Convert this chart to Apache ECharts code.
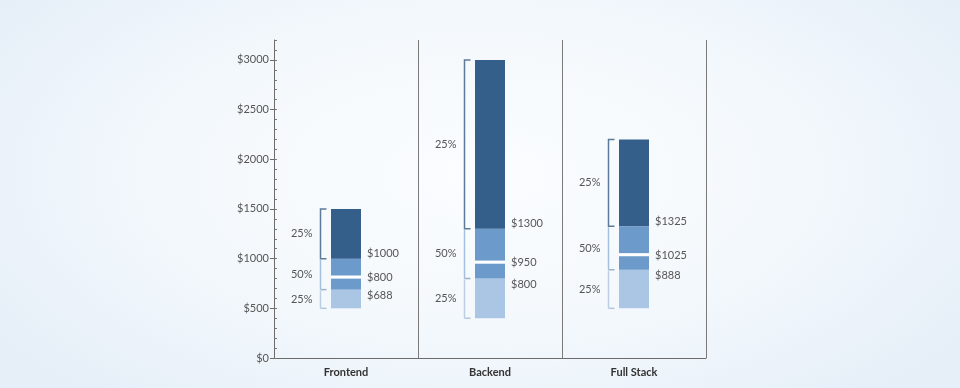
<!DOCTYPE html>
<html>
<head>
<meta charset="utf-8">
<script src="https://cdn.jsdelivr.net/npm/echarts@6/dist/echarts.min.js"></script>
<style>
  html, body { margin: 0; padding: 0; }
  body {
    width: 960px; height: 388px; overflow: hidden;
    background: radial-gradient(ellipse 60% 75% at 50% 45%, #fbfdff 0%, #f3f8fc 55%, #e6eff8 100%);
  }
  #chart { width: 960px; height: 388px; }
</style>
</head>
<body>
<div id="chart"></div>
<script>
const categories = ['Frontend', 'Backend', 'Full Stack'];
const lowValues = [500, 400, 500];
const q1Values = [688, 800, 888];
const medianValues = [800, 950, 1025];
const q3Values = [1000, 1300, 1325];
const highValues = [1500, 3000, 2200];
const shareLabels = ['25%', '50%', '25%'];
const yTickValues = [0, 500, 1000, 1500, 2000, 2500, 3000];

const FONT = 'Lato, "Open Sans", sans-serif';
const DARK = '#355f8b';
const MID = '#6c9aca';
const LIGHT = '#abc5e4';

const chart = echarts.init(document.getElementById('chart'), null, { renderer: 'canvas' });

const seg = (a, b) => a.map((v, i) => b[i] - v);

const option = {
  backgroundColor: 'transparent',
  animation: false,
  grid: { left: 274, right: 254, top: 40, bottom: 30, containLabel: false },
  xAxis: {
    type: 'category',
    data: categories,
    boundaryGap: true,
    axisLine: { show: true, lineStyle: { color: '#6b6b6b', width: 1 } },
    axisTick: { show: false },
    axisLabel: { margin: 9, fontSize: 11, color: '#333', fontFamily: FONT, fontWeight: 'bold' },
    splitLine: { show: true, lineStyle: { color: '#7a7a7a', width: 1 } }
  },
  yAxis: [
    {
      type: 'value', min: 0, max: 3200, interval: 500, position: 'left',
      axisLine: { show: true, lineStyle: { color: '#6b6b6b', width: 1 } },
      axisTick: { show: true, length: 4, customValues: yTickValues, lineStyle: { color: '#6b6b6b' } },
      axisLabel: {
        customValues: yTickValues, margin: 5, fontSize: 11, color: '#555', fontFamily: FONT,
        formatter: v => (v > 3000 ? '' : '$' + v)
      },
      splitLine: { show: false }
    },
    {
      type: 'value', min: 0, max: 3200, interval: 100, position: 'left',
      axisLine: { show: false },
      axisTick: { show: true, inside: true, length: 3, lineStyle: { color: '#777' } },
      axisLabel: { show: false },
      splitLine: { show: false }
    }
  ],
  series: [
    { type: 'bar', stack: 's', barWidth: 30, data: lowValues, itemStyle: { color: 'transparent' }, silent: true },
    { type: 'bar', stack: 's', barWidth: 30, data: seg(lowValues, q1Values), itemStyle: { color: LIGHT } },
    { type: 'bar', stack: 's', barWidth: 30, data: seg(q1Values, medianValues), itemStyle: { color: MID } },
    { type: 'bar', stack: 's', barWidth: 30, data: seg(medianValues, q3Values), itemStyle: { color: MID } },
    { type: 'bar', stack: 's', barWidth: 30, data: seg(q3Values, highValues), itemStyle: { color: DARK } },
    {
      type: 'custom',
      clip: false,
      z: 10,
      data: categories.map((c, i) => [i, lowValues[i], q1Values[i], medianValues[i], q3Values[i], highValues[i]]),
      encode: { x: 0, y: [1, 2, 3, 4, 5] },
      renderItem: function (params, api) {
        const i = api.value(0);
        const xc = api.coord([i, 0])[0];
        const bw = 30;
        const left = xc - bw / 2;
        const right = xc + bw / 2;
        const y = k => api.coord([i, api.value(k)])[1];
        const yLow = y(1), yQ1 = y(2), yMed = y(3), yQ3 = y(4), yHigh = y(5);
        const bx = Math.round(left - 11) + 0.5;
        const tl = 6;
        const txt = (x, yy, s, align) => ({
          type: 'text',
          style: { x: x, y: yy, text: s, fill: '#555', font: '11px ' + FONT, textAlign: align, textVerticalAlign: 'middle' }
        });
        const children = [
          { type: 'rect', shape: { x: left, y: yMed - 3, width: bw, height: 3 }, style: { fill: '#ffffff' } },
          // top bracket
          { type: 'polyline', shape: { points: [[bx + tl, yHigh], [bx, yHigh], [bx, yQ3], [bx + tl, yQ3]] },
            style: { stroke: '#5d7a99', lineWidth: 1.5, fill: null } },
          // middle bracket
          { type: 'line', shape: { x1: bx, y1: yQ3 + 1, x2: bx, y2: yQ1 },
            style: { stroke: '#a3c0df', lineWidth: 1.5 } },
          { type: 'line', shape: { x1: bx, y1: yQ1, x2: bx + tl, y2: yQ1 },
            style: { stroke: '#9fb3c8', lineWidth: 1.5 } },
          // bottom bracket
          { type: 'line', shape: { x1: bx, y1: yQ1 + 1, x2: bx, y2: yLow },
            style: { stroke: '#bccfe3', lineWidth: 1.5 } },
          { type: 'line', shape: { x1: bx, y1: yLow, x2: bx + tl, y2: yLow },
            style: { stroke: '#b4c7db', lineWidth: 1.5 } },
          // share labels
          txt(bx - 8, (yHigh + yQ3) / 2, shareLabels[0], 'right'),
          txt(bx - 8, (yQ3 + yQ1) / 2, shareLabels[1], 'right'),
          txt(bx - 8, (yQ1 + yLow) / 2, shareLabels[2], 'right'),
          // value labels
          txt(right + 6, yQ3 - 5, '$' + api.value(4), 'left'),
          txt(right + 6, yMed - 1, '$' + api.value(3), 'left'),
          txt(right + 6, yQ1 + 6, '$' + api.value(2), 'left')
        ];
        return { type: 'group', children: children };
      }
    }
  ]
};
chart.setOption(option);
</script>
</body>
</html>
